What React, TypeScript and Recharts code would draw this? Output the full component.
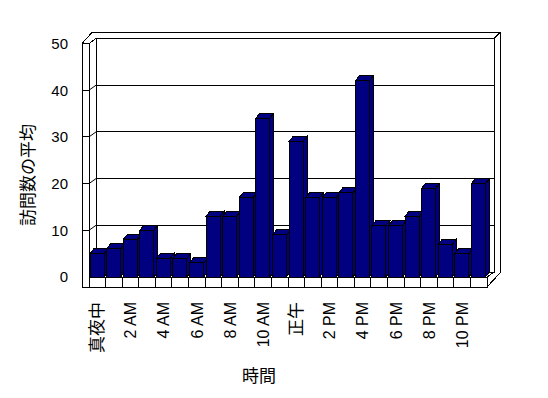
import { BarChart, Bar, XAxis, YAxis, usePlotArea } from "recharts";

const HOURS = [
  "真夜中", "1 AM", "2 AM", "3 AM", "4 AM", "5 AM", "6 AM", "7 AM", "8 AM", "9 AM", "10 AM", "11 AM",
  "正午", "1 PM", "2 PM", "3 PM", "4 PM", "5 PM", "6 PM", "7 PM", "8 PM", "9 PM", "10 PM", "11 PM",
];
const VISITS = [5, 6, 8, 10, 4, 4, 3, 13, 13, 17, 34, 9, 29, 17, 17, 18, 42, 11, 11, 13, 19, 7, 5, 20];
const Y_TICKS = [0, 10, 20, 30, 40, 50];
const Y_TITLE = "訪問数の平均";
const X_TITLE = "時間";

const FONT = "'Liberation Sans', 'Noto Sans CJK JP', sans-serif";
const NAVY = "#000080";
const Y_MAX = 50;

const data = HOURS.map((hour, i) => ({ hour, visits: VISITS[i] }));

// 3D look: back wall pushed right/up, walls and floor have a bit of thickness
const DEPTH_X = 7;
const DEPTH_Y = -5;
const WALL = 7;
const FLOOR = 10;
const BACK = 6;

function Frame() {
  const area = usePlotArea();
  if (!area) return null;
  const { x, y, width, height } = area;
  const left = x;
  const right = x + width;
  const top = y;
  const bottom = y + height;
  const yOf = (v: number) => bottom - (v / Y_MAX) * height;
  const line = { stroke: "#000", strokeWidth: 1, shapeRendering: "crispEdges" as const };

  const outer = [
    [left - WALL, bottom + FLOOR],
    [left - WALL, top],
    [left + DEPTH_X - 4, top + DEPTH_Y - BACK],
    [right + DEPTH_X + BACK, top + DEPTH_Y - BACK],
    [right + DEPTH_X + BACK, bottom + DEPTH_Y + 1],
    [right, bottom + FLOOR],
  ]
    .map((p) => p.join(","))
    .join(" ");

  const grid = Y_TICKS.filter((v) => v > 0 && v < Y_MAX);
  const slots = Array.from({ length: HOURS.length - 1 }, (_, k) => left + ((k + 1) * width) / HOURS.length);

  return (
    <g>
      <polygon points={outer} fill="#fff" {...line} />
      <rect x={left + DEPTH_X} y={top + DEPTH_Y} width={width} height={height} fill="#fff" {...line} />
      <polygon
        points={`${left},${top} ${left + DEPTH_X},${top + DEPTH_Y} ${left + DEPTH_X},${bottom + DEPTH_Y} ${left},${bottom}`}
        fill="#fff"
        {...line}
      />
      <polygon
        points={`${left},${bottom} ${right},${bottom} ${right + DEPTH_X},${bottom + DEPTH_Y} ${left + DEPTH_X},${bottom + DEPTH_Y}`}
        fill="#fff"
        {...line}
      />
      <rect x={left} y={bottom} width={width} height={FLOOR} fill="#fff" {...line} />
      <rect x={left - WALL} y={top} width={WALL} height={height + FLOOR} fill="#fff" {...line} />
      <line x1={right + DEPTH_X} y1={top + DEPTH_Y} x2={right + DEPTH_X + BACK} y2={top + DEPTH_Y - BACK} {...line} />
      <line x1={left} y1={top} x2={left + DEPTH_X} y2={top + DEPTH_Y} {...line} />
      {grid.map((v) => (
        <g key={v}>
          <line x1={left + DEPTH_X} y1={yOf(v) + DEPTH_Y} x2={right + DEPTH_X} y2={yOf(v) + DEPTH_Y} {...line} />
          <line x1={left} y1={yOf(v)} x2={left + DEPTH_X} y2={yOf(v) + DEPTH_Y} stroke="#000" />
          <line x1={left - WALL} y1={yOf(v)} x2={left} y2={yOf(v)} {...line} />
        </g>
      ))}
      {slots.map((sx) => (
        <line key={sx} x1={sx} y1={bottom} x2={sx} y2={bottom + FLOOR} {...line} />
      ))}
    </g>
  );
}

function Bar3D(props: any) {
  const { x, y, width, height } = props;
  if (!height || height <= 0) return null;
  const sx = 4;
  const sy = 5;
  return (
    <g stroke="#000" strokeWidth={1} fill={NAVY} shapeRendering="crispEdges">
      <rect x={x} y={y} width={width} height={height} />
      <polygon points={`${x},${y} ${x + width},${y} ${x + width + sx},${y - sy} ${x + sx},${y - sy}`} />
      <polygon
        points={`${x + width},${y} ${x + width + sx},${y - sy} ${x + width + sx},${y + height - sy} ${x + width},${y + height}`}
      />
    </g>
  );
}

function HourTick(props: any) {
  const { x, y, payload } = props;
  const label = String(payload.value);
  // the kanji labels come out a little bigger in the original
  const cjk = /[^\x00-\x7f]/.test(label);
  return (
    <text
      x={x}
      y={y}
      dy="0.36em"
      transform={`rotate(-90, ${x}, ${y})`}
      textAnchor="end"
      fontSize={cjk ? 17 : 16}
      fontFamily={FONT}
      fill="#000"
    >
      {label}
    </text>
  );
}

function Titles() {
  return (
    <g fontFamily={FONT} fill="#000" fontSize={17}>
      <text x={28} y={175} textAnchor="middle" dominantBaseline="central" transform="rotate(-90, 28, 175)">
        {Y_TITLE}
      </text>
      <text x={259} y={376} textAnchor="middle" dominantBaseline="central">
        {X_TITLE}
      </text>
    </g>
  );
}

export default function App() {
  return (
    <div style={{ position: "absolute", left: 0, top: 0, background: "#fff" }}>
      <BarChart width={548} height={398} data={data} margin={{ top: 43.5, right: 61, bottom: 0, left: 29 }}>
        <Frame />
        <XAxis
          dataKey="hour"
          interval={1}
          height={121}
          axisLine={false}
          tickLine={false}
          tickSize={0}
          tickMargin={25}
          tick={<HourTick />}
        />
        <YAxis
          domain={[0, Y_MAX]}
          ticks={Y_TICKS}
          width={60}
          axisLine={false}
          tickLine={false}
          tickSize={0}
          tickMargin={21}
          tick={{ fontSize: 15, fontFamily: FONT, fill: "#000" }}
        />
        <Bar dataKey="visits" barSize={14} shape={<Bar3D />} isAnimationActive={false} />
        <Titles />
      </BarChart>
    </div>
  );
}
